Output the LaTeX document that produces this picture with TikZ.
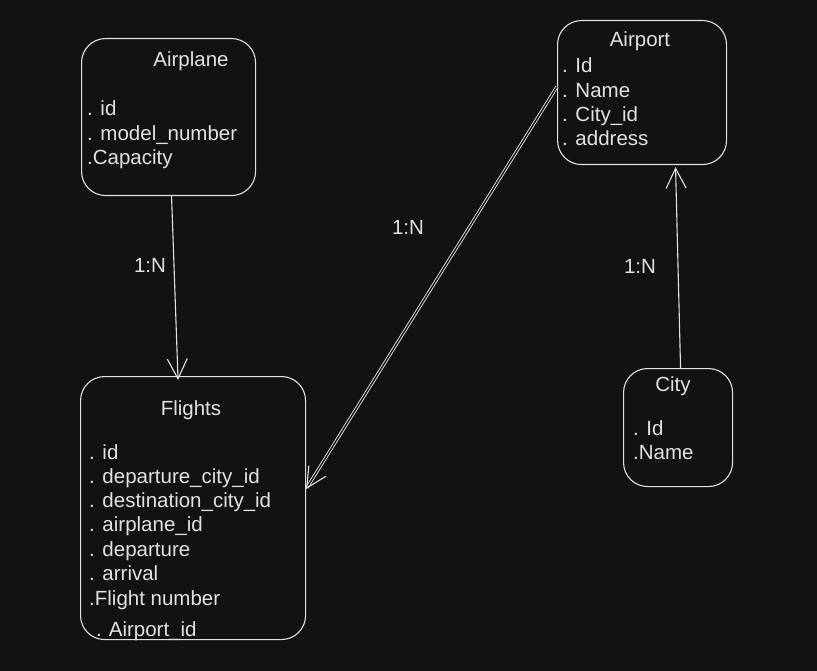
\documentclass[tikz,border=0pt]{standalone}
\usepackage{fontspec}
\setmainfont{Liberation Sans}
\usetikzlibrary{arrows.meta}
\definecolor{bg}{HTML}{121212}
\definecolor{ink}{HTML}{E2E2E2}
\begin{document}
\begin{tikzpicture}[x=1pt,y=-1pt,
  entity/.style={draw=ink, line width=1.1pt, rounded corners=24pt, anchor=north west, inner sep=0pt},
  txt/.style={text=ink, font=\fontsize{20.5}{22}\selectfont, anchor=west, inner sep=0pt, text height=15pt, text depth=4pt},
  ttl/.style={text=ink, font=\fontsize{20.5}{22}\selectfont, anchor=center, inner sep=0pt, text height=15pt, text depth=4pt},
  conn/.style={draw=ink, line width=1.1pt, -{Straight Barb[length=20pt,width=20pt,line width=1.1pt]}},
  lbl/.style={text=ink, font=\fontsize{20.5}{22}\selectfont, inner sep=0pt}]
\fill[bg] (0,0) rectangle (817,671);
\useasboundingbox (0,0) rectangle (817,671);

% boxes
\node[entity, minimum width=174pt, minimum height=157pt] (apl) at (81,38) {};
\node[entity, minimum width=169pt, minimum height=144pt] (ap) at (557,20) {};
\node[entity, minimum width=225pt, minimum height=263pt] (fl) at (80,376) {};
\node[entity, minimum width=109pt, minimum height=118pt] (ct) at (623,368) {};

% Airplane
\node[ttl] (aplT) at (191,61) {Airplane};
\node[txt] (apl1) at (87,110) {. id};
\node[txt] (apl2) at (87,135) {. model\_number};
\node[txt] (apl3) at (87,159) {.Capacity};

% Airport
\node[ttl] (apT) at (640,41) {Airport};
\node[txt] (ap1) at (562,67) {. Id};
\node[txt] (ap2) at (562,92) {. Name};
\node[txt] (ap3) at (562,116) {. City\_id};
\node[txt] (ap4) at (562,140) {. address};

% Flights
\node[ttl] (flT) at (191,410) {Flights};
\node[txt] (fl1) at (89,454) {. id};
\node[txt] (fl2) at (89,478) {. departure\_city\_id};
\node[txt] (fl3) at (89,502) {. destination\_city\_id};
\node[txt] (fl4) at (89,526) {. airplane\_id};
\node[txt] (fl5) at (89,551) {. departure};
\node[txt] (fl6) at (89,575) {. arrival};
\node[txt] (fl7) at (89,600) {.Flight number};
\node[txt] (fl8) at (96,631) {.\hspace{7pt}Airport\_id};

% City
\node[ttl] (ctT) at (673,386) {City};
\node[txt] (ct1) at (633,430) {. Id};
\node[txt] (ct2) at (633,454) {.Name};

% connectors
\draw[conn] ([xshift=3pt]apl.south) -- ([xshift=-15pt,yshift=-4pt]fl.north);
\draw[conn, double=bg, double distance=1.4pt, line width=0.9pt] ([yshift=6pt]ap.west) -- ([yshift=19pt]fl.east);
\draw[conn] ([xshift=2.5pt]ct.north) -- ([xshift=33.5pt,yshift=-2pt]ap.south);

% labels
\node[lbl] (l1) at (150,265) {1:N};
\node[lbl] (l2) at (408,227) {1:N};
\node[lbl] (l3) at (640,266) {1:N};
\end{tikzpicture}
\end{document}
